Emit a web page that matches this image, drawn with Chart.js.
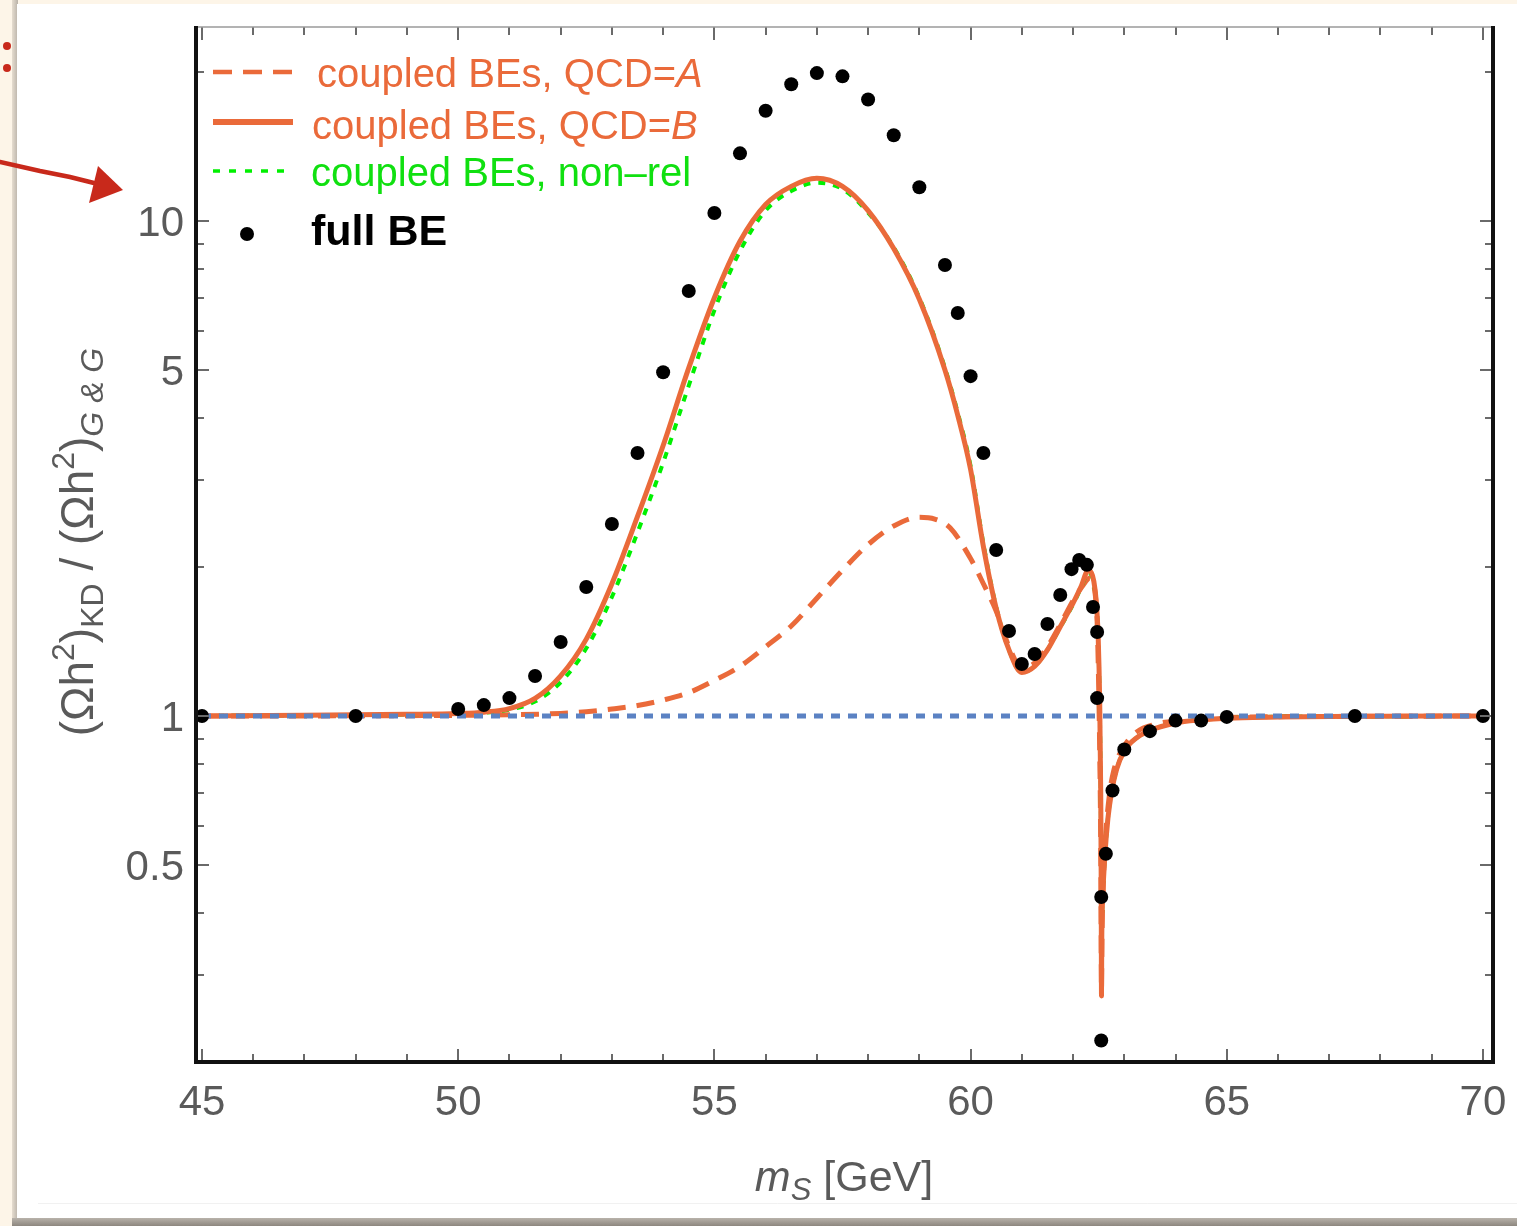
<!DOCTYPE html>
<html><head><meta charset="utf-8">
<script src="https://cdn.jsdelivr.net/npm/chart.js@4.4.0/dist/chart.umd.min.js"></script>
<style>html,body{margin:0;padding:0;background:#fff;}canvas{display:block;}</style>
</head><body>
<canvas id="c" width="1517" height="1226"></canvas>
<script>
// ---- data ----
const fullBE_x = [45, 48, 50, 50.5, 51, 51.5, 52, 52.5, 53, 53.5, 54, 54.5, 55, 55.5, 56, 56.5, 57, 57.5, 58, 58.5, 59, 59.5, 59.75, 60, 60.25, 60.5, 60.75, 61, 61.25, 61.5, 61.75, 61.97, 62.12, 62.27, 62.39, 62.47, 62.47, 62.55, 62.55, 62.64, 62.77, 63, 63.5, 64, 64.5, 65, 67.5, 70];
const fullBE_y = [1.0, 1.0, 1.033, 1.052, 1.087, 1.205, 1.411, 1.822, 2.443, 3.399, 4.95, 7.22, 10.38, 13.7, 16.7, 18.9, 19.9, 19.6, 17.6, 14.9, 11.7, 8.15, 6.52, 4.86, 3.40, 2.165, 1.485, 1.274, 1.334, 1.534, 1.756, 1.98, 2.066, 2.02, 1.66, 1.478, 1.087, 0.431, 0.221, 0.527, 0.707, 0.856, 0.932, 0.979, 0.979, 0.996, 1.0, 1.0];

const qcdB_x = [45, 47, 49, 50, 50.5, 51, 51.5, 52, 52.5, 53, 53.5, 54, 54.5, 55, 55.5, 56, 56.5, 57, 57.5, 58, 58.5, 59, 59.5, 59.75, 60, 60.25, 60.5, 60.75, 61, 61.25, 61.5, 61.75, 62, 62.15, 62.3, 62.38, 62.43, 62.47, 62.49, 62.52, 62.54, 62.55, 62.555, 62.56, 62.58, 62.62, 62.68, 62.75, 62.85, 63, 63.25, 63.5, 64, 64.5, 65, 66, 67, 68, 70];
const qcdB_y = [1.0, 1.003, 1.008, 1.012, 1.018, 1.035, 1.085, 1.205, 1.43, 1.85, 2.53, 3.52, 5.05, 7.0, 9.1, 10.8, 11.75, 12.2, 11.75, 10.5, 8.8, 6.95, 5.0, 4.05, 3.15, 2.2, 1.65, 1.36, 1.225, 1.26, 1.36, 1.515, 1.69, 1.82, 1.97, 1.92, 1.8, 1.6, 1.45, 1.07, 0.7, 0.45, 0.272, 0.35, 0.43, 0.52, 0.62, 0.7, 0.78, 0.85, 0.905, 0.935, 0.968, 0.982, 0.99, 0.995, 0.998, 0.999, 1.0];

const qcdA_x = [45, 48, 50, 51, 52, 52.5, 53, 53.5, 54, 54.5, 55, 55.5, 56, 56.5, 57, 57.5, 58, 58.5, 59, 59.3, 59.6, 60, 60.25, 60.5, 60.75, 61, 61.25, 61.5, 61.75, 62, 62.2, 62.33, 62.43, 62.47, 62.5, 62.52, 62.54, 62.555, 62.565, 62.59, 62.63, 62.7, 62.8, 63, 63.25, 63.6, 64, 65, 67, 70];
const qcdA_y = [1.0, 1.001, 1.003, 1.006, 1.012, 1.02, 1.033, 1.05, 1.077, 1.115, 1.18, 1.26, 1.38, 1.52, 1.73, 1.97, 2.22, 2.42, 2.52, 2.5, 2.4, 2.08, 1.85, 1.63, 1.38, 1.25, 1.28, 1.38, 1.53, 1.71, 1.84, 1.9, 1.77, 1.55, 1.15, 0.85, 0.55, 0.28, 0.36, 0.46, 0.56, 0.68, 0.78, 0.87, 0.93, 0.962, 0.978, 0.993, 0.998, 1.0];

const nonRel_x = [45, 49, 50, 51, 51.5, 52, 52.5, 53, 53.5, 54, 54.5, 55, 55.5, 56, 56.5, 57, 57.5, 58, 58.5, 59, 59.5, 59.75, 60, 60.25, 60.5, 60.75, 61, 61.25, 61.5, 61.75, 62, 62.15, 62.3, 62.38, 62.43, 62.47, 62.49, 62.52, 62.54, 62.55, 62.555, 62.56, 62.58, 62.62, 62.68, 62.75, 62.85, 63, 63.25, 63.5, 64, 65, 67, 70];
const nonRel_y = [1.0, 1.007, 1.011, 1.03, 1.07, 1.17, 1.37, 1.74, 2.35, 3.25, 4.65, 6.6, 8.7, 10.5, 11.5, 11.95, 11.6, 10.4, 8.85, 7.0, 5.05, 4.1, 3.2, 2.23, 1.66, 1.36, 1.225, 1.26, 1.36, 1.51, 1.68, 1.81, 1.95, 1.9, 1.78, 1.59, 1.44, 1.07, 0.7, 0.45, 0.28, 0.35, 0.43, 0.52, 0.62, 0.7, 0.78, 0.85, 0.905, 0.935, 0.968, 0.99, 0.998, 1.0];

const refLine_x = [45, 70];
const refLine_y = [1, 1];

const xTickValues = [45, 50, 55, 60, 65, 70];
const xTickLabels = ['45', '50', '55', '60', '65', '70'];
const xMinorTicks = [46, 47, 48, 49, 51, 52, 53, 54, 56, 57, 58, 59, 61, 62, 63, 64, 66, 67, 68, 69];
const yTickValues = [0.5, 1, 5, 10];
const yTickLabels = ['0.5', '1', '5', '10'];
const yMinorTicks = [0.2, 0.3, 0.4, 0.6, 0.7, 0.8, 0.9, 2, 3, 4, 6, 7, 8, 9, 20];

const legendNames = ['coupled BEs, QCD=', 'coupled BEs, QCD=', 'coupled BEs, non\u2013rel', 'full BE'];
const legendItalic = ['A', 'B', '', ''];

// ---- colours / styles ----
const ORANGE = '#ea6a3a';
const GREEN = '#00f000';
const BLUE = '#5b82c3';
const TICKCOL = '#5a5a5a';

function pts(xs, ys) { return xs.map((x, i) => ({ x: x, y: ys[i] })); }

const decor = {
  id: 'decor',
  beforeDraw(chart) {
    const ctx = chart.ctx;
    ctx.save();
    ctx.fillStyle = '#fdf5e8';
    ctx.fillRect(0, 0, 1517, 1226);
    let g = ctx.createLinearGradient(12, 0, 18, 0);
    g.addColorStop(0, '#e6ddd0'); g.addColorStop(1, '#b9b2a8');
    ctx.fillStyle = g; ctx.fillRect(12, 0, 6, 1226);
    g = ctx.createLinearGradient(0, 1218, 0, 1226);
    g.addColorStop(0, '#b8b2aa'); g.addColorStop(1, '#8d877f');
    ctx.fillStyle = g; ctx.fillRect(12, 1218, 1505, 8);
    ctx.fillStyle = '#ffffff';
    ctx.fillRect(17, 4, 1500, 1214);
    ctx.strokeStyle = '#f1f1f1'; ctx.lineWidth = 1;
    ctx.beginPath(); ctx.moveTo(38, 1203.5); ctx.lineTo(1517, 1203.5); ctx.stroke();
    // red annotation
    ctx.fillStyle = '#c8291b';
    ctx.beginPath(); ctx.arc(7, 46, 4, 0, Math.PI * 2); ctx.fill();
    ctx.beginPath(); ctx.arc(7, 68, 4, 0, Math.PI * 2); ctx.fill();
    ctx.strokeStyle = '#c8291b'; ctx.lineWidth = 4.5; ctx.lineCap = 'round';
    ctx.beginPath(); ctx.moveTo(0, 162); ctx.lineTo(40, 171); ctx.lineTo(70, 177); ctx.lineTo(98, 184); ctx.stroke();
    ctx.beginPath(); ctx.moveTo(123, 190); ctx.lineTo(98, 166); ctx.lineTo(89, 203); ctx.closePath(); ctx.fill();
    ctx.restore();
  },
  afterDatasetsDraw(chart) {
    const ctx = chart.ctx;
    const xs = chart.scales.x, ys = chart.scales.y;
    const L = chart.chartArea.left, R = chart.chartArea.right, T = chart.chartArea.top, B = chart.chartArea.bottom;
    ctx.save();
    ctx.strokeStyle = '#6a6a6a'; ctx.lineWidth = 2; ctx.lineCap = 'butt';
    const tick = (x1, y1, x2, y2) => { ctx.beginPath(); ctx.moveTo(x1, y1); ctx.lineTo(x2, y2); ctx.stroke(); };
    xTickValues.forEach(v => { const p = Math.round(xs.getPixelForValue(v)); tick(p, B, p, B - 13); tick(p, T, p, T + 13); });
    xMinorTicks.forEach(v => { const p = Math.round(xs.getPixelForValue(v)); tick(p, B, p, B - 8); tick(p, T, p, T + 8); });
    yTickValues.forEach(v => { const p = Math.round(ys.getPixelForValue(v)); tick(L, p, L + 13, p); tick(R, p, R - 13, p); });
    yMinorTicks.forEach(v => { const p = Math.round(ys.getPixelForValue(v)); tick(L, p, L + 8, p); tick(R, p, R - 8, p); });
    ctx.strokeStyle = '#9a9a9a'; ctx.lineWidth = 1.5;
    tick(L, T, R, T);
    ctx.strokeStyle = '#111'; ctx.lineWidth = 4;
    ctx.beginPath(); ctx.moveTo(L, T - 1); ctx.lineTo(L, B); ctx.lineTo(R, B); ctx.lineTo(R, T - 1); ctx.stroke();
    // tick labels
    ctx.fillStyle = TICKCOL;
    ctx.font = '42px "Liberation Sans", Arial, sans-serif';
    ctx.textAlign = 'center'; ctx.textBaseline = 'alphabetic';
    xTickValues.forEach((v, i) => ctx.fillText(xTickLabels[i], xs.getPixelForValue(v), 1115));
    ctx.textAlign = 'right';
    yTickValues.forEach((v, i) => ctx.fillText(yTickLabels[i], 184, ys.getPixelForValue(v) + 15));
    // x title
    const segX = [
      { t: 'm', f: 'italic 43px "Liberation Sans", Arial, sans-serif', dy: 0 },
      { t: 'S', f: 'italic 31px "Liberation Sans", Arial, sans-serif', dy: 9 },
      { t: ' [GeV]', f: '43px "Liberation Sans", Arial, sans-serif', dy: 0 }
    ];
    drawSegs(ctx, segX, 844, 1191);
    // y title
    const main = '46px "Liberation Sans", Arial, sans-serif';
    const small = '32px "Liberation Sans", Arial, sans-serif';
    const smallI = 'italic 32px "Liberation Sans", Arial, sans-serif';
    const segY = [
      { t: '(\u03A9h', f: main, dy: 0 }, { t: '2', f: small, dy: -19 }, { t: ')', f: main, dy: 0 },
      { t: 'KD', f: small, dy: 10 }, { t: ' / (\u03A9h', f: main, dy: 0 }, { t: '2', f: small, dy: -19 },
      { t: ')', f: main, dy: 0 }, { t: 'G & G', f: smallI, dy: 10 }
    ];
    ctx.save();
    ctx.translate(93, 542); ctx.rotate(-Math.PI / 2);
    drawSegs(ctx, segY, 0, 0);
    ctx.restore();
    // legend
    const lx1 = 213, lx2 = 293;
    ctx.lineCap = 'butt';
    ctx.strokeStyle = ORANGE; ctx.lineWidth = 4.5; ctx.setLineDash([19, 11]);
    tick(lx1, 72, lx2, 72);
    ctx.setLineDash([]); ctx.lineWidth = 6; tick(lx1, 122, lx2, 122);
    ctx.strokeStyle = GREEN; ctx.lineWidth = 3.5; ctx.setLineDash([7, 9]);
    tick(lx1, 171, lx2, 171);
    ctx.setLineDash([]);
    ctx.fillStyle = '#000'; ctx.beginPath(); ctx.arc(247, 234, 7, 0, Math.PI * 2); ctx.fill();
    const reg = '40px "Liberation Sans", Arial, sans-serif';
    const ita = 'italic 40px "Liberation Sans", Arial, sans-serif';
    ctx.textAlign = 'left';
    const legRow = (i, x, y, col) => {
      ctx.fillStyle = col; ctx.font = reg; ctx.fillText(legendNames[i], x, y);
      if (legendItalic[i]) { const w = ctx.measureText(legendNames[i]).width; ctx.font = ita; ctx.fillText(legendItalic[i], x + w, y); }
    };
    legRow(0, 317, 87, ORANGE);
    legRow(1, 312, 139, ORANGE);
    legRow(2, 311, 186, '#10e010');
    ctx.fillStyle = '#000'; ctx.font = 'bold 43px "Liberation Sans", Arial, sans-serif';
    ctx.fillText(legendNames[3], 311, 245);
    ctx.restore();
  }
};

function drawSegs(ctx, segs, cx, baseY) {
  ctx.textAlign = 'left'; ctx.textBaseline = 'alphabetic';
  let W = 0;
  segs.forEach(s => { ctx.font = s.f; s.w = ctx.measureText(s.t).width; W += s.w; });
  let x = cx - W / 2;
  ctx.fillStyle = TICKCOL;
  segs.forEach(s => { ctx.font = s.f; ctx.fillText(s.t, x, baseY + s.dy); x += s.w; });
}

new Chart(document.getElementById('c'), {
  type: 'scatter',
  data: {
    datasets: [
      { label: 'full BE', data: pts(fullBE_x, fullBE_y), showLine: false, pointRadius: 7,
        pointBackgroundColor: '#000', pointBorderWidth: 0, order: 0, clip: false },
      { label: 'reference', data: pts(refLine_x, refLine_y), showLine: true, pointRadius: 0,
        borderColor: BLUE, borderWidth: 5, borderDash: [9, 8], order: 1 },
      { label: 'coupled BEs, QCD=B', data: pts(qcdB_x, qcdB_y), showLine: true, pointRadius: 0,
        borderColor: ORANGE, borderWidth: 5, cubicInterpolationMode: 'monotone', borderJoinStyle: 'round', order: 2 },
      { label: 'coupled BEs, non-rel', data: pts(nonRel_x, nonRel_y), showLine: true, pointRadius: 0,
        borderColor: GREEN, borderWidth: 4, borderDash: [7, 8], cubicInterpolationMode: 'monotone', order: 3 },
      { label: 'coupled BEs, QCD=A', data: pts(qcdA_x, qcdA_y), showLine: true, pointRadius: 0,
        borderColor: ORANGE, borderWidth: 5, borderDash: [18, 11], cubicInterpolationMode: 'monotone', borderJoinStyle: 'round', order: 4 }
    ]
  },
  options: {
    responsive: false, animation: false, devicePixelRatio: 1,
    layout: { padding: { left: 196, right: 24, top: 27, bottom: 164 } },
    scales: {
      x: { type: 'linear', min: 44.883, max: 70.196, display: false },
      y: { type: 'logarithmic', min: 0.2, max: 24.66, display: false }
    },
    plugins: { legend: { display: false }, tooltip: { enabled: false } },
    events: []
  },
  plugins: [decor]
});
</script>
</body></html>
